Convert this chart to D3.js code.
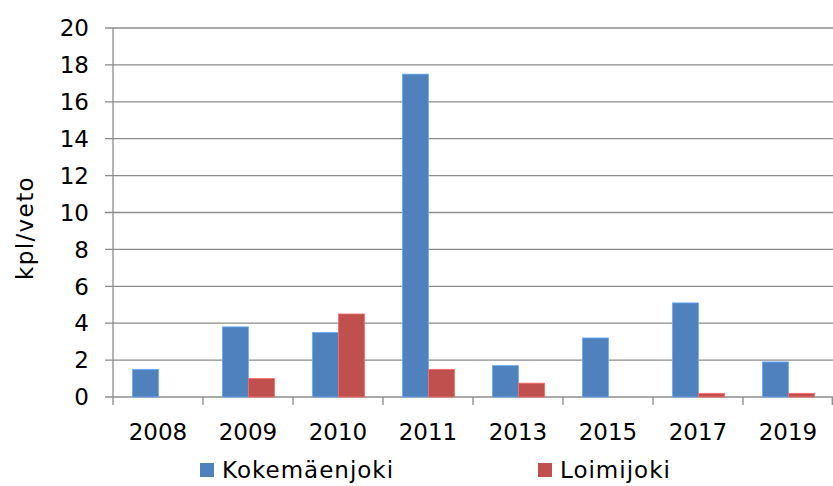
<!DOCTYPE html>
<html>
<head>
<meta charset="UTF-8">
<script src="https://d3js.org/d3.v7.min.js"></script>
<style>
  body { margin: 0; background: #fff; }
  text { font-family: "DejaVu Sans", sans-serif; fill: #000; }
</style>
</head>
<body>
<svg width="833" height="486"></svg>
<script>
const years = ["2008", "2009", "2010", "2011", "2013", "2015", "2017", "2019"];
const series = ["Kokemäenjoki", "Loimijoki"];
const kokemaenjoki = [1.5, 3.8, 3.5, 17.5, 1.7, 3.2, 5.1, 1.9];
const loimijoki = [0, 1.0, 4.5, 1.5, 0.75, 0, 0.2, 0.2];
const yTicks = [0, 2, 4, 6, 8, 10, 12, 14, 16, 18, 20];
const colors = ["#4f81bd", "#c0504d"];

const values = [kokemaenjoki, loimijoki];
const rows = years.map((y, i) => ({ year: y, vals: series.map((s, j) => ({ s, v: values[j][i] })) }));

const svg = d3.select("svg");
const margin = { top: 28, right: 0, bottom: 89, left: 113 };
const width = 833 - margin.left - margin.right;
const height = 486 - margin.top - margin.bottom;

const g = svg.append("g").attr("transform", `translate(${margin.left},${margin.top})`);

const x0 = d3.scaleBand().domain(years).range([0, width]);
const x1 = d3.scaleBand().domain(series)
  .range([x0.bandwidth() * 0.215, x0.bandwidth() * 0.795]);
const y = d3.scaleLinear().domain([0, 20]).range([height, 0]);

// gridlines + y ticks
g.append("g").selectAll("line").data(yTicks).enter().append("line")
  .attr("x1", -8).attr("x2", width)
  .attr("y1", d => y(d)).attr("y2", d => y(d))
  .attr("stroke", "#8c8c8c").attr("stroke-width", 1.3);

g.append("g").selectAll("text").data(yTicks).enter().append("text")
  .attr("x", -24).attr("y", d => y(d)).attr("dy", "0.36em")
  .attr("text-anchor", "end").style("font-size", "23px").text(d => d);

// y axis line
g.append("line").attr("x1", 0).attr("x2", 0).attr("y1", 0).attr("y2", height + 8)
  .attr("stroke", "#8c8c8c").attr("stroke-width", 1.3);

// x ticks at category boundaries
g.append("g").selectAll("line").data(years.slice(1).concat(["end"])).enter().append("line")
  .attr("x1", d => d === "end" ? width - 0.7 : x0(d))
  .attr("x2", d => d === "end" ? width - 0.7 : x0(d))
  .attr("y1", height).attr("y2", height + 8)
  .attr("stroke", "#8c8c8c").attr("stroke-width", 1.3);

// bars
const grp = g.append("g").selectAll("g").data(rows).enter().append("g")
  .attr("transform", d => `translate(${x0(d.year)},0)`);
grp.selectAll("rect").data(d => d.vals.filter(v => v.v > 0)).enter().append("rect")
  .attr("x", d => x1(d.s)).attr("width", x1.bandwidth())
  .attr("y", d => y(d.v)).attr("height", d => y(0) - y(d.v))
  .attr("fill", d => colors[series.indexOf(d.s)])
  .attr("stroke", d => d3.color(colors[series.indexOf(d.s)]).brighter(0.8))
  .attr("stroke-width", 0.8);

// x labels
g.append("g").selectAll("text").data(years).enter().append("text")
  .attr("x", d => x0(d) + x0.bandwidth() / 2).attr("y", height + 43)
  .attr("text-anchor", "middle").style("font-size", "23px").text(d => d);

// y title
svg.append("text").attr("transform", "translate(33,228) rotate(-90)")
  .attr("text-anchor", "middle").style("font-size", "23px")
  .style("letter-spacing", "1.4px").text("kpl/veto");

// legend
const legendX = [200, 538];
const leg = svg.append("g").selectAll("g").data(series).enter().append("g")
  .attr("transform", (d, i) => `translate(${legendX[i]},463)`);
leg.append("rect").attr("width", 14).attr("height", 14).attr("fill", (d, i) => colors[i]);
leg.append("text").attr("x", 22).attr("y", 15).style("font-size", "23px")
  .style("letter-spacing", "1px").text(d => d);
</script>
</body>
</html>
